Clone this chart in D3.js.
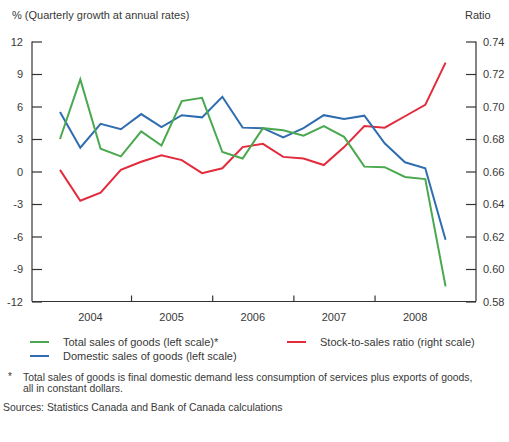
<!DOCTYPE html>
<html>
<head>
<meta charset="utf-8">
<script src="https://cdn.jsdelivr.net/npm/d3@7"></script>
<style>
  body { margin: 0; background: #fff; }
  svg text { font-family: "Liberation Sans", Arial, sans-serif; fill: #383838; }
</style>
</head>
<body>
<div id="chart"></div>
<script>
  // quarters 2004Q1 .. 2008Q4
  var quarters = ["2004Q1", "2004Q2", "2004Q3", "2004Q4",
                  "2005Q1", "2005Q2", "2005Q3", "2005Q4",
                  "2006Q1", "2006Q2", "2006Q3", "2006Q4",
                  "2007Q1", "2007Q2", "2007Q3", "2007Q4",
                  "2008Q1", "2008Q2", "2008Q3", "2008Q4"];
  var totalSales = [3.0, 8.5, 2.1, 1.4, 3.7, 2.4, 6.5, 6.8, 1.8, 1.2,
                    4.0, 3.8, 3.3, 4.2, 3.2, 0.45, 0.4, -0.5, -0.7, -10.6];
  var domesticSales = [5.5, 2.2, 4.4, 3.9, 5.3, 4.1, 5.2, 5.0, 6.9, 4.05,
                       4.0, 3.15, 4.0, 5.2, 4.85, 5.15, 2.6, 0.85, 0.3, -6.3];
  var stockRatio = [0.661, 0.642, 0.647, 0.661, 0.666, 0.670, 0.667, 0.659, 0.662, 0.675,
                    0.677, 0.669, 0.668, 0.664, 0.675, 0.688, 0.687, 0.694, 0.701, 0.727];
  var years = [2004, 2005, 2006, 2007, 2008];
  var leftTicks = [12, 9, 6, 3, 0, -3, -6, -9, -12];
  var rightTicks = [0.74, 0.72, 0.70, 0.68, 0.66, 0.64, 0.62, 0.60, 0.58];

  var GREEN = '#4aa84f';
  var BLUE = '#2f6db0';
  var RED = '#e32b3c';
  var AXIS = '#333';

  var W = 509, H = 442;
  var svg = d3.select('#chart').append('svg')
    .attr('width', W)
    .attr('height', H);

  var x = d3.scaleLinear().domain([2003.78, 2009.25]).range([32, 476]);
  var yL = d3.scaleLinear().domain([-12, 12]).range([301.5, 41.5]);
  var yR = d3.scaleLinear().domain([0.58, 0.74]).range([301.5, 41.5]);

  function qx(i) {
    var q = quarters[i];
    return x(+q.slice(0, 4) + (+q.slice(5) - 0.5) / 4);
  }

  // axes
  var left = svg.append('g').attr('transform', 'translate(32,0)')
    .call(d3.axisRight(yL).tickValues(leftTicks).tickSize(10).tickFormat(''));
  var right = svg.append('g').attr('transform', 'translate(476,0)')
    .call(d3.axisLeft(yR).tickValues(rightTicks).tickSize(10).tickFormat(''));
  var bottom = svg.append('g').attr('transform', 'translate(0,301.5)')
    .call(d3.axisTop(x).tickValues(years.slice(1)).tickSize(6).tickFormat(''));

  [left, right, bottom].forEach(function (g) {
    g.select('.domain').attr('stroke', AXIS).attr('stroke-width', 1.2);
    g.selectAll('.tick line').attr('stroke', AXIS).attr('stroke-width', 1.2);
  });
  bottom.select('.domain').attr('d', 'M32,0H476');
  left.select('.domain').attr('d', 'M0,41.5V301.5');
  right.select('.domain').attr('d', 'M0,41.5V301.5');

  svg.append('g').selectAll('text')
    .data(leftTicks)
    .enter().append('text')
    .attr('x', 23)
    .attr('y', function (d) { return yL(d) + 4; })
    .attr('text-anchor', 'end')
    .style('font-size', '11px')
    .text(function (d) { return d; });

  svg.append('g').selectAll('text')
    .data(rightTicks)
    .enter().append('text')
    .attr('x', 483)
    .attr('y', function (d) { return yR(d) + 4; })
    .style('font-size', '11px')
    .text(function (d) { return d3.format('.2f')(d); });

  svg.append('g').selectAll('text')
    .data(years)
    .enter().append('text')
    .attr('x', function (d) { return x(d + 0.5); })
    .attr('y', 321)
    .attr('text-anchor', 'middle')
    .style('font-size', '11px')
    .text(function (d) { return d; });

  svg.append('text').attr('x', 12).attr('y', 19)
    .style('font-size', '11px')
    .text('% (Quarterly growth at annual rates)');
  svg.append('text').attr('x', 465).attr('y', 19)
    .style('font-size', '11px')
    .text('Ratio');

  // series
  var lineL = d3.line()
    .x(function (d, i) { return qx(i); })
    .y(function (d) { return yL(d); });
  var lineR = d3.line()
    .x(function (d, i) { return qx(i); })
    .y(function (d) { return yR(d); });

  svg.append('path').datum(stockRatio)
    .attr('d', lineR).attr('fill', 'none')
    .attr('stroke', RED).attr('stroke-width', 2);
  svg.append('path').datum(domesticSales)
    .attr('d', lineL).attr('fill', 'none')
    .attr('stroke', BLUE).attr('stroke-width', 2);
  svg.append('path').datum(totalSales)
    .attr('d', lineL).attr('fill', 'none')
    .attr('stroke', GREEN).attr('stroke-width', 2);

  // legend
  var legend = [
    { label: 'Total sales of goods (left scale)*', color: GREEN, x: 30, y: 342 },
    { label: 'Domestic sales of goods (left scale)', color: BLUE, x: 30, y: 356 },
    { label: 'Stock-to-sales ratio (right scale)', color: RED, x: 287, y: 342 }
  ];
  var lg = svg.append('g').selectAll('g')
    .data(legend)
    .enter().append('g')
    .attr('transform', function (d) { return 'translate(' + d.x + ',' + d.y + ')'; });
  lg.append('line')
    .attr('x1', 0).attr('x2', 19)
    .attr('stroke', function (d) { return d.color; })
    .attr('stroke-width', 2);
  lg.append('text')
    .attr('x', 33).attr('y', 4)
    .style('font-size', '11px')
    .text(function (d) { return d.label; });

  svg.append('text').attr('x', 8).attr('y', 380)
    .style('font-size', '10px').text('*');
  svg.append('text').attr('x', 23).attr('y', 381)
    .style('font-size', '10.4px')
    .text('Total sales of goods is final domestic demand less consumption of services plus exports of goods,');
  svg.append('text').attr('x', 23).attr('y', 392)
    .style('font-size', '10.4px')
    .text('all in constant dollars.');
  svg.append('text').attr('x', 3).attr('y', 411)
    .style('font-size', '10.4px')
    .text('Sources: Statistics Canada and Bank of Canada calculations');
</script>
</body>
</html>
